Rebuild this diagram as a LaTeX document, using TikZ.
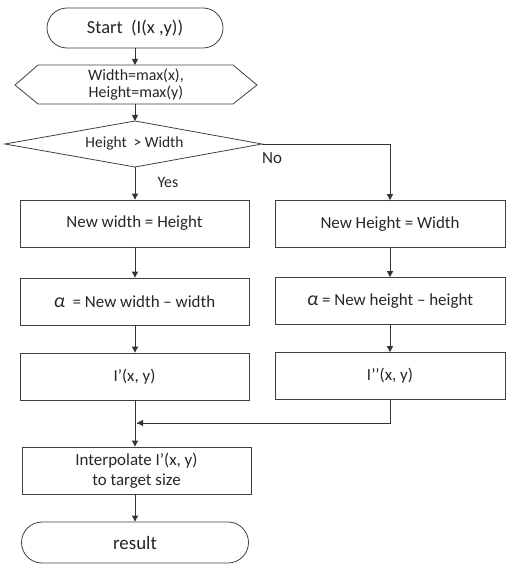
\documentclass[tikz,border=0pt]{standalone}
\usepackage{fontspec}
\setmainfont{Carlito}
\usetikzlibrary{arrows.meta,shapes.geometric,shapes.misc}
\newcommand{\fs}[1]{\fontsize{#1}{#1}\selectfont}
\begin{document}
\begin{tikzpicture}[x=1bp,y=-1bp,
  every node/.style={font=\fs{17}, text=black!85},
  box/.style={draw=black!75, line width=0.8bp, rectangle, minimum width=229bp, minimum height=47bp, inner sep=0pt, align=center},
  term/.style={draw=black!75, line width=0.8bp, rounded rectangle, minimum width=176bp, minimum height=40bp, inner sep=0pt},
  arr/.style={draw=black!80, line width=0.9bp, -{Triangle[length=6bp,width=6bp]}},
  ln/.style={draw=black!80, line width=0.9bp}]
\useasboundingbox (0,0) rectangle (513,571);
\node[term, font=\fs{18.5}] (start) at (135,28) {Start \ (I(x ,y))};
\draw[black!75, line width=0.8bp] (15,85) -- (38,65) -- (233,65) -- (257,85) -- (233,104) -- (38,104) -- cycle;
\node[align=center, inner sep=0pt, minimum width=242bp, minimum height=39bp, font=\fontsize{16}{17}\selectfont] (init) at (136,84.5) {Width=max(x),\\Height=max(y)};
\draw[black!75, line width=0.8bp] (5,144) -- (135,121) -- (262,144) -- (135,167) -- cycle;
\node[inner sep=0pt, minimum width=257bp, minimum height=46bp, font=\fs{15.5}] (cond) at (134.5,143) {Height \ > Width};
\node[box] (l1) at (134.5,223.5) {New width = Height};
\node[box, minimum width=230bp] (r1) at (390,224) {New Height = Width};
\node[box] (l2) at (134.5,301.5) {{\fs{20}\itshape α} \ = New width – width};
\node[box, minimum width=230bp] (r2) at (390,301) {{\fs{20}\itshape α} = New height – height};
\node[box] (l3) at (134.5,376.5) {I’(x, y)};
\node[box, minimum width=230bp] (r3) at (390,376) {I’’(x, y)};
\node[box, minimum width=229bp, align=center, font=\fontsize{17}{20}\selectfont] (interp) at (136.5,470.5) {Interpolate I’(x, y)\\to target size};
\node[term, minimum width=227bp, minimum height=41bp, font=\fs{19}] (res) at (135,542.5) {result};
\coordinate (c1) at (135,65);
\coordinate (c2) at (135,121);
\coordinate (m) at (135,423);
\coordinate (rc) at (390,144);
\draw[arr] (start.south) -- (c1);
\draw[arr] (135,104) -- (c2);
\draw[arr] (135,167) -- (l1.north -| 135,0);
\draw[ln] (262,144) -- (rc);
\draw[arr] (rc) -- (r1.north);
\draw[arr] (l1.south -| 135,0) -- (l2.north -| 135,0);
\draw[arr] (r1.south) -- (r2.north);
\draw[arr] (l2.south -| 135,0) -- (l3.north -| 135,0);
\draw[arr] (r2.south) -- (r3.north);
\draw[ln] (r3.south) |- (137,423);
\draw[arr] (r3.south |- m) -- (137,423);
\draw[arr] (l3.south -| 135,0) -- (interp.north -| 135,0);
\draw[arr] (interp.south -| 135,0) -- (res.north);
\node[font=\fs{16}] at (168,182) {Yes};
\node[font=\fs{17}] at (272,158) {No};
\end{tikzpicture}
\end{document}
